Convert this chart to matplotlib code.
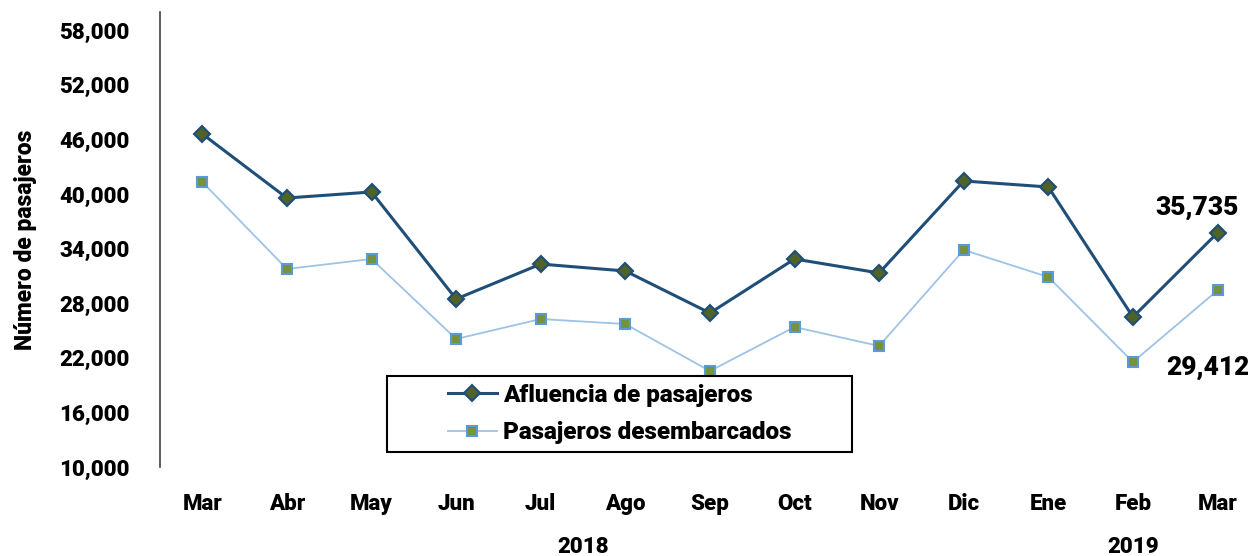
import matplotlib
matplotlib.use("Agg")
import matplotlib.pyplot as plt
from matplotlib.patches import Rectangle

months = ["Mar", "Abr", "May", "Jun", "Jul", "Ago", "Sep", "Oct", "Nov", "Dic", "Ene", "Feb", "Mar"]
afluencia = [46600, 39560, 40220, 28460, 32300, 31540, 26920, 32860, 31320, 41430, 40770, 26480, 35735]
desembarcados = [41320, 31760, 32860, 24070, 26260, 25710, 20550, 25380, 23300, 33850, 30880, 21540, 29412]
yticks = [10000, 16000, 22000, 28000, 34000, 40000, 46000, 52000, 58000]
years = ["2018", "2019"]

plt.rcParams['font.family'] = ['Roboto', 'DejaVu Sans']
W = "heavy"

fig = plt.figure(figsize=(12.48, 5.56), dpi=100)
ax = fig.add_axes([160/1248, 1-467/556, 1-160/1248, (467-12)/556])

x = list(range(len(months)))
ax.plot(x, afluencia, color="#1F4E79", lw=2.2, marker="D", ms=8,
        mfc="#4F6228", mec="#1F4E79", mew=1.5, label="Afluencia de pasajeros", zorder=3)
ax.plot(x, desembarcados, color="#9DC3E6", lw=1.3, marker="s", ms=7,
        mfc="#76923C", mec="#5B9BD5", mew=1.5, label="Pasajeros desembarcados", zorder=3)

ax.set_ylim(10000, 60000)
ax.set_xlim(-0.5, 12.36)
ax.set_yticks(yticks)
ax.set_yticklabels([f"{v:,}" for v in yticks], fontsize=16, fontweight=W)
ax.set_xticks(x)
ax.set_xticklabels(months, fontsize=16, fontweight=W)
ax.tick_params(axis="both", length=0)
ax.tick_params(axis="y", pad=22)
ax.tick_params(axis="x", pad=19)
for s in ["top", "right", "bottom"]:
    ax.spines[s].set_visible(False)
ax.spines["left"].set_color("#404040")
ax.spines["left"].set_linewidth(1.2)

ax.set_ylabel("Número de pasajeros", fontsize=16.5, fontweight=W, labelpad=16)

ax.annotate(f"{afluencia[-1]:,}", (x[-1], afluencia[-1]), xytext=(-14.4, 18),
            textcoords="offset points", ha="center", va="center", fontsize=19, fontweight=W)
ax.annotate(f"{desembarcados[-1]:,}", (x[-1], desembarcados[-1]), xytext=(-7.2, -56),
            textcoords="offset points", ha="center", va="center", fontsize=19, fontweight=W)

# year labels
for yr, cx in zip(years, [4.5, 11.0]):
    ax.text(cx, -0.175, yr, transform=ax.get_xaxis_transform(), ha="center", va="center",
            fontsize=16, fontweight=W)

# legend box
bx0, bx1, by0, by1 = 387, 852, 376, 452
axw, axh = 1088, 455
rect = Rectangle(((bx0-160)/axw, (467-by1)/axh), (bx1-bx0)/axw, (by1-by0)/axh,
                 transform=ax.transAxes, edgecolor="black", lw=1.5, zorder=4)
rect.set_facecolor((1, 1, 1, 0.9))
ax.add_patch(rect)
leg = ax.legend(loc="center", bbox_to_anchor=(((bx0+bx1)/2-160)/axw, (467-(by0+by1)/2)/axh),
                frameon=False, prop={"size": 17.5, "weight": W}, borderpad=0,
                handlelength=2.0, handletextpad=0.25, labelspacing=0.6, borderaxespad=0)
leg.set_zorder(5)

fig.savefig("out.png", dpi=100)
